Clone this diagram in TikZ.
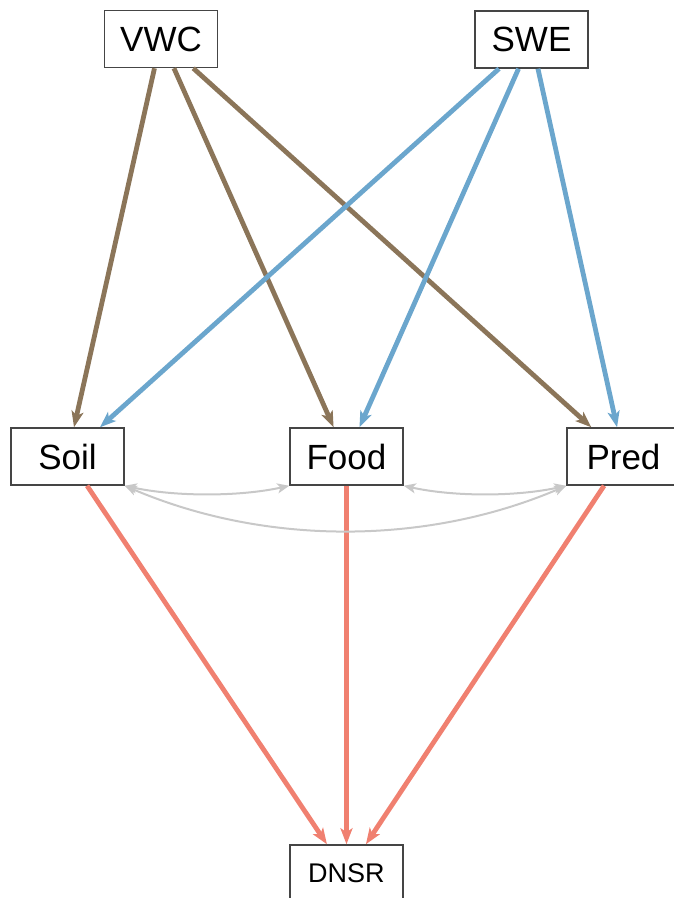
\documentclass[tikz,border=0pt]{standalone}
\usepackage{fontspec}
\setmainfont{Liberation Sans}
\usetikzlibrary{arrows.meta}
\definecolor{brn}{HTML}{8B7559}
\definecolor{blu}{HTML}{6BA6CD}
\definecolor{sal}{HTML}{F08070}
\definecolor{lgr}{HTML}{C8C8C8}
\definecolor{bord}{HTML}{454545}
\tikzset{
  box/.style={draw=bord, line width=1.5pt, fill=white, minimum width=113pt, minimum height=57pt, inner sep=0pt, font=\fontsize{35}{40}\selectfont},
  smallbox/.style={box, font=\fontsize{27}{31}\selectfont},
  tip/.style={-{Stealth[length=16pt,width=12pt,inset=4pt]}},
  bedge/.style={tip, draw=brn, line width=4.8pt},
  uedge/.style={tip, draw=blu, line width=4.8pt},
  redge/.style={tip, draw=sal, line width=4.8pt},
  gedge/.style={{Stealth[length=12pt,width=10pt,inset=3pt]}-{Stealth[length=12pt,width=10pt,inset=3pt]}, draw=lgr, line width=2pt},
}
\begin{document}
\begin{tikzpicture}[x=1pt,y=-1pt]
\useasboundingbox (0,0) rectangle (673,898);
\node[box] (vwc) at (161,39) {VWC};
\node[box] (swe) at (531.5,39.5) {SWE};
\node[box] (soil) at (67.5,456.5) {Soil};
\node[box] (food) at (346.5,456.5) {Food};
\node[box] (pred) at (623.5,456.5) {Pred};
\node[smallbox] (dnsr) at (346.5,873.5) {DNSR};
% brown
\draw[bedge] (vwc) -- (soil);
\draw[bedge] (vwc) -- (food);
\draw[bedge] (vwc) -- (pred);
% blue
\draw[uedge] (swe) -- (soil);
\draw[uedge] (swe) -- (food);
\draw[uedge] (swe) -- (pred);
% red
\draw[redge] (soil) -- (dnsr);
\draw[redge] (food) -- (dnsr);
\draw[redge] (pred) -- (dnsr);
% gray covariances
\draw[gedge] (soil.south east) .. controls ([shift={(50,11)}]soil.south east) and ([shift={(-50,11)}]food.south west) .. (food.south west);
\draw[gedge] (food.south east) .. controls ([shift={(50,11)}]food.south east) and ([shift={(-50,11)}]pred.south west) .. (pred.south west);
\draw[gedge] (soil.south east) .. controls ([shift={(140,60)}]soil.south east) and ([shift={(-140,60)}]pred.south west) .. (pred.south west);
\end{tikzpicture}
\end{document}
